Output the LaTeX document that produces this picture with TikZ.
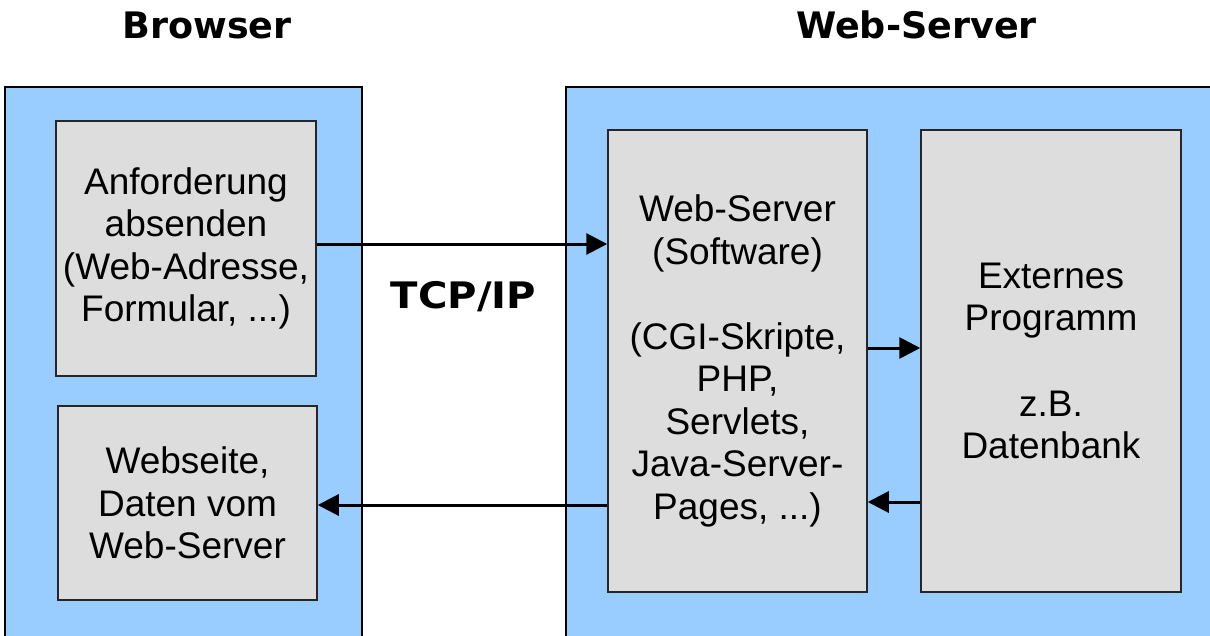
\documentclass[tikz,border=0pt]{standalone}
\usepackage{fontspec}
\setmainfont{Liberation Sans}
\newfontfamily\bodyfont{Liberation Sans}
\newfontfamily\titlefont{DejaVu Sans}
\usetikzlibrary{arrows.meta}
\definecolor{panelblue}{HTML}{99CCFF}
\definecolor{boxgray}{HTML}{DDDDDD}
\tikzset{
  panel/.style={draw=black, line width=1.5pt, fill=panelblue},
  gbox/.style={draw=black!85, line width=1.5pt, fill=boxgray, inner sep=0pt, align=center,
    font=\bodyfont\fontsize{37}{42.5}\selectfont},
  ttl/.style={anchor=base, inner sep=0pt, font=\titlefont\bfseries\fontsize{36.5}{40}\selectfont},
  arr/.style={line width=3pt, -{Triangle[length=21pt,width=21pt]}}
}
\begin{document}
\begin{tikzpicture}[x=1pt,y=-1pt]
\clip (0,0) rectangle (1210,635);
\fill[white] (0,0) rectangle (1210,635);
% panels
\draw[panel] (5,87) rectangle (362,645);
\draw[panel] (566,87) rectangle (1220,645);
% titles
\node[ttl] (tb) at (207,38) {Browser};
\node[ttl] (tw) at (916.5,38) {Web-Server};
\node[ttl] (tcp) at (463.5,308) {\scalebox{1.1}[1]{TCP/IP}};
% boxes
\node[gbox, minimum width=260, minimum height=255] (A) at (186,248.5)
  {Anforderung\\absenden\\(Web-Adresse,\\Formular, ...)};
\node[gbox, minimum width=259, minimum height=194] (D) at (187.5,503)
  {Webseite,\\Daten vom\\Web-Server};
\node[gbox, minimum width=259, minimum height=462] (W) at (737.5,361)
  {Web-Server\\(Software)\\[42.5pt](CGI-Skripte,\\PHP,\\Servlets,\\Java-Server-\\Pages, ...)};
\node[gbox, minimum width=260, minimum height=462] (E) at (1051,361)
  {Externes\\Programm\\[43pt]z.B.\\Datenbank};
% arrows
\draw[arr] (A.east |- 0,244) -- (W.west |- 0,244);
\draw[arr] (W.east |- 0,348) -- (E.west |- 0,348);
\draw[arr] (E.west |- 0,502) -- (W.east |- 0,502);
\draw[arr] (W.west |- 0,505) -- (D.east |- 0,505);
\end{tikzpicture}
\end{document}
